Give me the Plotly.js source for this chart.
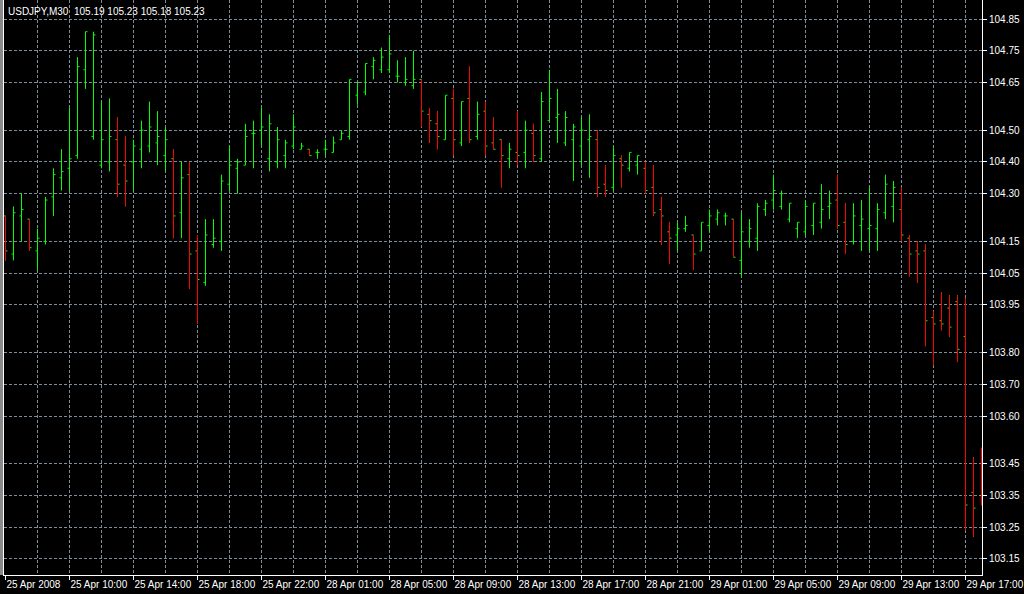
<!DOCTYPE html>
<html>
<head>
<meta charset="utf-8">
<script src="https://cdn.plot.ly/plotly-3.0.1.min.js"></script>
<style>
html,body{margin:0;padding:0;background:#000;overflow:hidden}
#chart{width:1024px;height:594px}
</style>
</head>
<body>
<div id="chart"></div>
<script>
const chartTitle = "USDJPY,M30  105.19 105.23 105.18 105.23";

const openPrices = [
104.23,104.11,104.23,104.22,104.12,104.15,104.29,104.35,104.38,104.42,
104.69,104.48,104.39,104.40,104.47,104.39,104.40,104.44,104.45,104.46,
104.42,104.41,104.24,104.36,104.12,104.02,104.14,104.15,104.33,104.38,
104.39,104.49,104.50,104.41,104.40,104.42,104.45,104.44,104.44,104.43,
104.44,104.43,104.47,104.48,104.61,104.62,104.70,104.69,104.69,104.67,
104.65,104.64,104.66,104.55,104.52,104.47,104.60,104.46,104.60,104.48,
104.56,104.46,104.47,104.41,104.43,104.43,104.49,104.41,104.53,104.54,
104.46,104.47,104.45,104.47,104.47,104.33,104.32,104.41,104.38,104.39,
104.38,104.32,104.25,104.18,104.17,104.19,104.17,104.12,104.20,104.22,
104.23,104.22,104.09,104.15,104.16,104.25,104.28,104.26,104.22,104.19,
104.18,104.20,104.21,104.26,104.28,104.21,104.15,104.20,104.19,104.19,
104.24,104.26,104.25,104.16,104.12,104.12,103.91,103.90,103.94,103.96,
103.85,103.36,103.35];

const highPrices = [
104.23,104.26,104.30,104.22,104.19,104.29,104.38,104.44,104.57,104.73,
104.81,104.81,104.59,104.60,104.54,104.48,104.47,104.53,104.59,104.56,
104.51,104.44,104.40,104.40,104.17,104.22,104.22,104.36,104.45,104.41,
104.52,104.53,104.57,104.55,104.51,104.47,104.55,104.46,104.44,104.44,
104.47,104.48,104.50,104.66,104.65,104.71,104.73,104.76,104.80,104.72,
104.73,104.75,104.66,104.57,104.56,104.61,104.63,104.59,104.70,104.59,
104.59,104.54,104.47,104.46,104.56,104.53,104.52,104.62,104.69,104.63,
104.56,104.52,104.54,104.55,104.50,104.39,104.45,104.42,104.43,104.42,
104.40,104.39,104.29,104.21,104.21,104.23,104.17,104.21,104.25,104.25,
104.24,104.22,104.24,104.22,104.27,104.28,104.36,104.31,104.27,104.21,
104.28,104.27,104.33,104.31,104.36,104.27,104.27,104.28,104.32,104.27,
104.36,104.34,104.32,104.17,104.15,104.14,103.93,103.99,103.98,103.98,
103.97,103.47,103.50];

const lowPrices = [
104.09,104.09,104.15,104.12,104.06,104.14,104.23,104.31,104.31,104.41,
104.63,104.47,104.38,104.37,104.29,104.26,104.31,104.38,104.43,104.39,
104.37,104.16,104.16,104.00,103.89,104.01,104.13,104.12,104.31,104.30,
104.39,104.38,104.45,104.37,104.38,104.38,104.44,104.44,104.42,104.41,
104.42,104.43,104.47,104.47,104.58,104.61,104.66,104.68,104.68,104.65,
104.64,104.63,104.51,104.46,104.44,104.47,104.42,104.45,104.46,104.47,
104.42,104.44,104.32,104.38,104.39,104.38,104.40,104.40,104.53,104.46,
104.45,104.34,104.39,104.35,104.29,104.29,104.31,104.32,104.37,104.36,
104.30,104.23,104.14,104.08,104.12,104.18,104.06,104.12,104.18,104.20,
104.20,104.10,104.04,104.13,104.12,104.23,104.25,104.25,104.21,104.16,
104.17,104.17,104.19,104.22,104.19,104.11,104.14,104.12,104.12,104.12,
104.22,104.21,104.15,104.04,104.02,103.82,103.76,103.87,103.85,103.77,
103.24,103.22,103.32];

const closePrices = [
104.12,104.24,104.25,104.13,104.16,104.28,104.36,104.37,104.41,104.70,
104.81,104.80,104.47,104.48,104.33,104.34,104.45,104.50,104.51,104.48,
104.47,104.23,104.35,104.11,104.03,104.17,104.16,104.34,104.39,104.40,
104.48,104.49,104.51,104.52,104.47,104.46,104.51,104.45,104.42,104.43,
104.44,104.46,104.49,104.66,104.65,104.71,104.72,104.73,104.74,104.67,
104.66,104.66,104.56,104.53,104.48,104.61,104.47,104.59,104.47,104.55,
104.45,104.44,104.42,104.44,104.42,104.50,104.42,104.59,104.60,104.55,
104.54,104.51,104.50,104.48,104.32,104.31,104.42,104.39,104.43,104.42,
104.31,104.24,104.23,104.16,104.19,104.20,104.11,104.21,104.23,104.24,
104.23,104.10,104.18,104.19,104.26,104.27,104.31,104.30,104.27,104.21,
104.26,104.27,104.25,104.27,104.20,104.14,104.23,104.22,104.20,104.25,
104.33,104.32,104.17,104.11,104.11,103.90,103.89,103.89,103.88,103.81,
103.32,103.31,103.32];

const timeLabels = [
"25 Apr 2008","25 Apr 10:00","25 Apr 14:00","25 Apr 18:00","25 Apr 22:00",
"28 Apr 01:00","28 Apr 05:00","28 Apr 09:00","28 Apr 13:00","28 Apr 17:00",
"28 Apr 21:00","29 Apr 01:00","29 Apr 05:00","29 Apr 09:00","29 Apr 13:00",
"29 Apr 17:00"];

const priceLabels = [104.85,104.75,104.65,104.50,104.40,104.30,104.15,104.05,
103.95,103.80,103.70,103.60,103.45,103.35,103.25,103.15];

const barsPerLabel = 8;
const barsPerGrid = 4;

const idx = openPrices.map((_, i) => i);
const downX = [], downY = [];
idx.forEach(i => {
  if (closePrices[i] < openPrices[i]) {
    downX.push(i, i, null);
    downY.push(lowPrices[i], highPrices[i], null);
  }
});
const labelVals = timeLabels.map((_, k) => k * barsPerLabel);
const gridVals = idx.filter(i => i > 0 && i % barsPerGrid === 0);

const GREEN = '#00ff00', RED = '#ff0000', GRID = '#7f8c9a';
const FONT = {family: 'Liberation Sans, Arial, sans-serif', size: 10, color: '#ffffff'};

const traces = [
  {
    type: 'ohlc', x: idx,
    open: openPrices, high: highPrices, low: lowPrices, close: closePrices,
    increasing: {line: {color: GREEN, width: 1}},
    decreasing: {line: {color: GREEN, width: 1}},
    tickwidth: 0.25, hoverinfo: 'skip', showlegend: false
  },
  {
    type: 'scatter', mode: 'lines', x: downX, y: downY,
    line: {color: RED, width: 1}, hoverinfo: 'skip', showlegend: false,
    connectgaps: false
  }
];

const W = 1024, H = 594, L = 4, R = 42, T = 0, B = 19;
const plotW = W - L - R;

const layout = {
  width: W, height: H,
  paper_bgcolor: '#000000', plot_bgcolor: '#000000',
  margin: {l: L, r: R, t: T, b: B, pad: 0},
  showlegend: false,
  title: {
    text: chartTitle, font: FONT,
    x: 8 / W, xanchor: 'left', xref: 'container',
    y: 1 - 11 / H, yanchor: 'middle', yref: 'container'
  },
  xaxis: {
    range: [-0.1875, 122.0625],
    rangeslider: {visible: false},
    tickmode: 'array', tickvals: labelVals, ticktext: timeLabels,
    ticklabelposition: 'outside right',
    tickangle: 0,
    ticks: 'outside', ticklen: 4, tickcolor: '#ffffff', tickwidth: 1,
    tickfont: FONT,
    showgrid: false, zeroline: false,
    showline: true, linecolor: '#ffffff', linewidth: 1,
    minor: {tickmode: 'array', tickvals: gridVals, showgrid: true,
            gridcolor: GRID, griddash: '3px,2px', gridwidth: 1, ticks: ''},
    fixedrange: true
  },
  yaxis: {
    side: 'right',
    range: [103.0996, 104.9098],
    tickmode: 'array', tickvals: priceLabels,
    ticktext: priceLabels.map(v => v.toFixed(2)),
    ticks: 'outside', ticklen: 4, tickcolor: '#ffffff', tickwidth: 1,
    tickfont: FONT,
    showgrid: true, gridcolor: GRID, griddash: '3px,2px', gridwidth: 1,
    zeroline: false,
    showline: true, mirror: true, linecolor: '#ffffff', linewidth: 1,
    fixedrange: true
  },
  shapes: [
    {type: 'rect', xref: 'paper', yref: 'paper',
     x0: -4 / plotW, x1: -1 / plotW, y0: 0, y1: 1,
     fillcolor: '#8a8a8a', line: {width: 0}, layer: 'above'}
  ]
};

Plotly.newPlot('chart', traces, layout, {displayModeBar: false, staticPlot: true});
</script>
</body>
</html>
